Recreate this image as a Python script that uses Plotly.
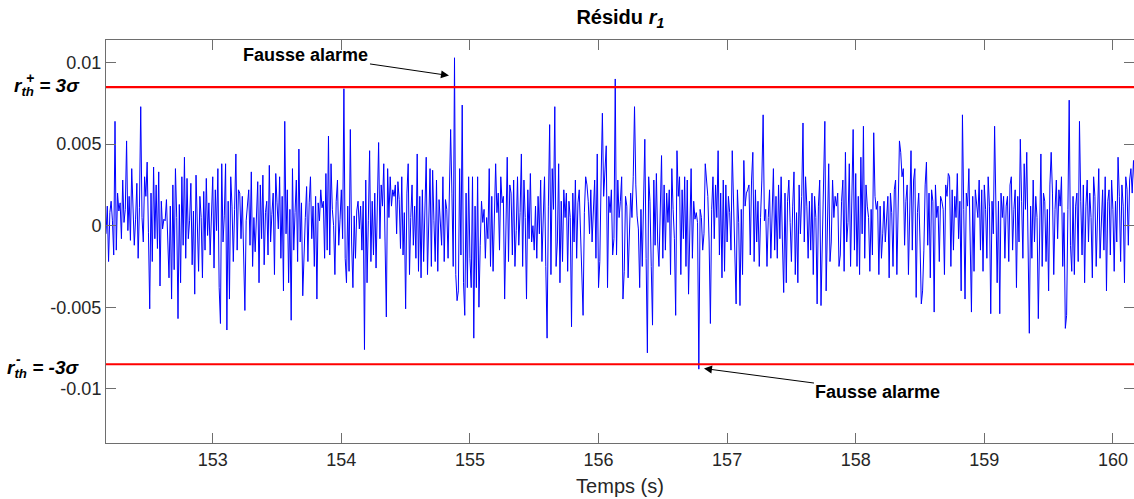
import plotly.graph_objects as go

# Sampling of the residual (s)
t_start = 152.17
t_step = 0.01

# Residual r1 values (one row = 0.2 s)
r1 = [
    -5e-4, 12e-4, -22e-4, 8e-4, 15e-4, 3e-4, -18e-4, 64e-4, -15e-4, 20e-4, 9e-4, 14e-4, -8e-4, 28e-4, 2e-4, 10e-4, 52e-4, -3e-4, 18e-4, -9e-4,
    35e-4, 6e-4, -12e-4, 4e-4, 26e-4, -20e-4, 11e-4, 73e-4, 5e-4, -10e-4, 30e-4, 18e-4, 39e-4, -4e-4, -51e-4, 20e-4, -22e-4, 36e-4, -8e-4, 25e-4,
    -14e-4, 33e-4, -37e-4, 15e-4, -2e-4, 4e-4, 3e-4, 16e-4, -15e-4, -32e-4, 12e-4, -45e-4, 25e-4, -27e-4, 35e-4, 5e-4, -57e-4, 13e-4, -35e-4, 30e-4,
    -12e-4, 42e-4, -20e-4, 29e-4, -8e-4, 3e-4, 26e-4, -24e-4, 9e-4, -42e-4, 31e-4, 1e-4, -28e-4, 18e-4, 5e-4, -32e-4, 21e-4, -15e-4, 29e-4, -6e-4,
    14e-4, -18e-4, 8e-4, 30e-4, -26e-4, 22e-4, -3e-4, 35e-4, -38e-4, -60e-4, 38e-4, -10e-4, 6e-4, 38e-4, -64e-4, 15e-4, -45e-4, 30e-4, 12e-4, -22e-4,
    10e-4, 44e-4, -15e-4, 22e-4, 20e-4, -8e-4, 18e-4, -30e-4, -52e-4, 3e-4, 16e-4, 22e-4, -12e-4, 33e-4, -25e-4, 5e-4, -16e-4, 13e-4, 27e-4, -35e-4,
    25e-4, -8e-4, 31e-4, -24e-4, 8e-4, 15e-4, -18e-4, 37e-4, -10e-4, 7e-4, 20e-4, -30e-4, 32e-4, 14e-4, -2e-4, 30e-4, -20e-4, 18e-4, -40e-4, 64e-4,
    -5e-4, 22e-4, -35e-4, 10e-4, -58e-4, 35e-4, -15e-4, 8e-4, 28e-4, -22e-4, 47e-4, -10e-4, 14e-4, -43e-4, -12e-4, 5e-4, 24e-4, -22e-4, 14e-4, 30e-4,
    -8e-4, 12e-4, -25e-4, 18e-4, -45e-4, 14e-4, 3e-4, 22e-4, 11e-4, 15e-4, -20e-4, 32e-4, -15e-4, 55e-4, -18e-4, 38e-4, 10e-4, 0.0, -30e-4, 15e-4,
    28e-4, -12e-4, 4e-4, 22e-4, -8e-4, 84e-4, -20e-4, -35e-4, 12e-4, -28e-4, 59e-4, -10e-4, -38e-4, 6e-4, -20e-4, 9e-4, 15e-4, -2e-4, 12e-4, -15e-4,
    15e-4, -76e-4, 28e-4, -35e-4, 3e-4, 46e-4, -22e-4, 15e-4, -18e-4, 20e-4, -26e-4, 12e-4, 51e-4, -8e-4, 25e-4, 12e-4, 38e-4, -10e-4, -56e-4, 35e-4,
    5e-4, 30e-4, 12e-4, 22e-4, 18e-4, 25e-4, -5e-4, 27e-4, 16e-4, -14e-4, 30e-4, -18e-4, 8e-4, -51e-4, 20e-4, 38e-4, -30e-4, 5e-4, 25e-4, -12e-4,
    12e-4, -20e-4, 44e-4, -28e-4, 18e-4, -32e-4, 22e-4, -22e-4, 10e-4, 42e-4, -30e-4, 15e-4, 35e-4, -25e-4, 34e-4, 3e-4, -22e-4, 28e-4, -28e-4, 16e-4,
    5e-4, -12e-4, 30e-4, -22e-4, 16e-4, 10e-4, -20e-4, 22e-4, 59e-4, 20e-4, -25e-4, 103e-4, -30e-4, -46e-4, -40e-4, 35e-4, -18e-4, 74e-4, -35e-4, -55e-4,
    20e-4, -38e-4, 30e-4, -20e-4, -38e-4, 30e-4, -69e-4, 12e-4, -38e-4, 30e-4, -50e-4, -12e-4, 15e-4, 2e-4, 10e-4, -20e-4, 5e-4, -8e-4, 35e-4, -25e-4,
    18e-4, -28e-4, 6e-4, 38e-4, 8e-4, 20e-4, -15e-4, 30e-4, 14e-4, 18e-4, -45e-4, 5e-4, 42e-4, -22e-4, 25e-4, 20e-4, -18e-4, 28e-4, -25e-4, -3e-4,
    30e-4, -12e-4, 8e-4, 44e-4, -25e-4, 28e-4, 5e-4, -45e-4, 22e-4, -8e-4, 32e-4, -10e-4, 0.0, -15e-4, 12e-4, -20e-4, 18e-4, -5e-4, 28e-4, -22e-4,
    12e-4, 30e-4, -25e-4, -69e-4, 12e-4, 62e-4, -30e-4, 35e-4, 10e-4, 73e-4, -25e-4, -10e-4, 38e-4, -35e-4, 15e-4, -22e-4, 22e-4, 5e-4, 20e-4, -28e-4,
    15e-4, 5e-4, -62e-4, 20e-4, -10e-4, 28e-4, -20e-4, 14e-4, 22e-4, -8e-4, -40e-4, -55e-4, 8e-4, 30e-4, 25e-4, 15e-4, -5e-4, 22e-4, -10e-4, 10e-4,
    28e-4, -20e-4, 44e-4, -38e-4, -22e-4, 28e-4, 69e-4, 18e-4, 30e-4, 49e-4, -38e-4, 18e-4, 8e-4, 22e-4, -18e-4, -8e-4, 90e-4, -18e-4, 28e-4, 5e-4,
    15e-4, 30e-4, -45e-4, -28e-4, 18e-4, 12e-4, -32e-4, -10e-4, 20e-4, 5e-4, 30e-4, 73e-4, 25e-4, 6e-4, -2e-4, -38e-4, 10e-4, -25e-4, 15e-4, 53e-4,
    -20e-4, -78e-4, 30e-4, 15e-4, -25e-4, -61e-4, 28e-4, -12e-4, 32e-4, -10e-4, -25e-4, 15e-4, 43e-4, -20e-4, 25e-4, -15e-4, 20e-4, 2e-4, 22e-4, -30e-4,
    35e-4, 10e-4, -8e-4, -55e-4, 46e-4, 18e-4, 30e-4, -30e-4, 22e-4, -8e-4, 30e-4, -25e-4, 28e-4, -42e-4, 12e-4, 35e-4, -20e-4, 15e-4, 4e-4, 8e-4,
    2e-4, -88e-4, 10e-4, 5e-4, -15e-4, -5e-4, 38e-4, 25e-4, 18e-4, -10e-4, -60e-4, 10e-4, 30e-4, -8e-4, 25e-4, 5e-4, 46e-4, -18e-4, 20e-4, -32e-4,
    28e-4, -28e-4, 25e-4, -10e-4, 18e-4, 8e-4, -15e-4, 46e-4, 12e-4, -25e-4, -48e-4, 22e-4, 2e-4, -49e-4, 10e-4, -30e-4, 40e-4, 12e-4, 20e-4, 22e-4,
    25e-4, -18e-4, 28e-4, 45e-4, -22e-4, 22e-4, -10e-4, 15e-4, -25e-4, 5e-4, 28e-4, 68e-4, 3e-4, 10e-4, -25e-4, 5e-4, 22e-4, -20e-4, 12e-4, 35e-4,
    -15e-4, 18e-4, -20e-4, 25e-4, -8e-4, 30e-4, -10e-4, -41e-4, 20e-4, -35e-4, 15e-4, 28e-4, 2e-4, -22e-4, 12e-4, 33e-4, -30e-4, 8e-4, -35e-4, 25e-4,
    -5e-4, 18e-4, 63e-4, -10e-4, 30e-4, 12e-4, -20e-4, 15e-4, -15e-4, 20e-4, -30e-4, 18e-4, 5e-4, -48e-4, 12e-4, 28e-4, -49e-4, -15e-4, 20e-4, 64e-4,
    -40e-4, 12e-4, 38e-4, -22e-4, -10e-4, 28e-4, 5e-4, 18e-4, 12e-4, 20e-4, -25e-4, -18e-4, 15e-4, 28e-4, -28e-4, 45e-4, -10e-4, 2e-4, 38e-4, -25e-4,
    20e-4, 59e-4, -15e-4, 32e-4, -25e-4, 18e-4, -30e-4, 42e-4, -5e-4, 61e-4, -20e-4, 25e-4, 12e-4, 5e-4, -28e-4, 10e-4, -18e-4, 57e-4, 18e-4, 10e-4,
    15e-4, -30e-4, 12e-4, -20e-4, -5e-4, 15e-4, -10e-4, 5e-4, 18e-4, -32e-4, 20e-4, 8e-4, -25e-4, 22e-4, 28e-4, -30e-4, 15e-4, 52e-4, 45e-4, 30e-4,
    35e-4, -12e-4, 15e-4, 25e-4, -30e-4, 8e-4, 46e-4, -15e-4, 28e-4, 35e-4, -44e-4, 8e-4, 20e-4, -10e-4, -48e-4, -40e-4, -15e-4, 25e-4, 39e-4, -12e-4,
    20e-4, -32e-4, 22e-4, 15e-4, -53e-4, 25e-4, 5e-4, 12e-4, -22e-4, 18e-4, 15e-4, 10e-4, -30e-4, 25e-4, 18e-4, 32e-4, 30e-4, -25e-4, 22e-4, -15e-4,
    18e-4, 5e-4, 32e-4, -8e-4, 15e-4, -40e-4, 68e-4, 10e-4, -45e-4, 20e-4, 12e-4, 35e-4, -25e-4, -53e-4, 18e-4, -28e-4, 22e-4, 15e-4, 5e-4, 28e-4,
    -15e-4, 22e-4, -28e-4, 25e-4, 10e-4, -20e-4, 30e-4, 12e-4, -54e-4, 15e-4, -5e-4, 61e-4, 8e-4, -35e-4, 15e-4, -54e-4, 20e-4, 5e-4, 18e-4, -20e-4,
    12e-4, 18e-4, -22e-4, 25e-4, 30e-4, -15e-4, 10e-4, 22e-4, -38e-4, 18e-4, -10e-4, 53e-4, 15e-4, -20e-4, 38e-4, 10e-4, 45e-4, -15e-4, -66e-4, 12e-4,
    -20e-4, 28e-4, -10e-4, 18e-4, 5e-4, -57e-4, 12e-4, 44e-4, -25e-4, 20e-4, 15e-4, -22e-4, 10e-4, -40e-4, 25e-4, 45e-4, 20e-4, -30e-4, 10e-4, 28e-4,
    -8e-4, 22e-4, 12e-4, 30e-4, -25e-4, 8e-4, -63e-4, -55e-4, 10e-4, 77e-4, -12e-4, -28e-4, 18e-4, -30e-4, 12e-4, 20e-4, -22e-4, 64e-4, 15e-4, -18e-4,
    25e-4, -35e-4, 12e-4, 28e-4, -10e-4, 20e-4, 5e-4, -32e-4, 30e-4, 18e-4, -25e-4, 12e-4, 35e-4, -20e-4, 8e-4, 22e-4, -15e-4, 30e-4, -40e-4, 15e-4,
    22e-4, -18e-4, 28e-4, 10e-4, -28e-4, 15e-4, -10e-4, 42e-4, 18e-4, -22e-4, 25e-4, 12e-4, -35e-4, 30e-4, 22e-4, -12e-4, 28e-4, 35e-4, 20e-4, 40e-4,
    25e-4,
]
t = [t_start + k * t_step for k in range(len(r1))]

# Thresholds (+/- 3 sigma)
r_th_plus = 0.0085
r_th_minus = -0.0085

# Axis ticks
x_ticks = [153, 154, 155, 156, 157, 158, 159, 160]
y_ticks = [-0.01, -0.005, 0, 0.005, 0.01]
y_ticklabels = ["-0.01", "-0.005", "0", "0.005", "0.01"]
x_range = [152.17, 160.164]
y_range = [-0.01333, 0.01139]

# False alarm annotations: (time, value) of arrow tip
alarm_tips = [(154.837, 0.00921), (156.82, -0.00876)]
alarm_offsets = [(-143, -21), (174, 23)]

FONT = "Liberation Sans, Arial, Helvetica, sans-serif"
AXIS_COLOR = "#6e6e6e"
TEXT_COLOR = "#262626"

fig = go.Figure()
fig.add_trace(go.Scatter(x=t, y=r1, mode="lines",
                         line=dict(color="#0000ff", width=1), showlegend=False,
                         hoverinfo="skip"))
for thr in (r_th_plus, r_th_minus):
    fig.add_trace(go.Scatter(x=x_range, y=[thr, thr], mode="lines",
                             line=dict(color="#ff0000", width=2.2), showlegend=False,
                             hoverinfo="skip"))

for (xt, yt), (ax, ay) in zip(alarm_tips, alarm_offsets):
    fig.add_annotation(x=xt, y=yt, xref="x", yref="y", ax=ax, ay=ay,
                       text="<b>Fausse alarme</b>", showarrow=True,
                       arrowhead=2, arrowsize=1.6, arrowwidth=1, arrowcolor="black",
                       font=dict(family=FONT, size=18, color="black"))

# Threshold labels on the left
lab_font = dict(family=FONT, size=19, color="black")
fig.add_annotation(xref="paper", yref="y", x=0, y=r_th_plus, xanchor="right", yanchor="middle",
                   xshift=-24, yshift=0, showarrow=False,
                   text="<b><i>r<sub>th</sub> = 3σ</i></b>", font=lab_font)
fig.add_annotation(xref="paper", yref="y", x=0, y=r_th_plus, xanchor="center", yanchor="middle",
                   xshift=-76, yshift=9, showarrow=False,
                   text="<b><i>+</i></b>", font=dict(family=FONT, size=14, color="black"))
fig.add_annotation(xref="paper", yref="y", x=0, y=r_th_minus, xanchor="right", yanchor="middle",
                   xshift=-24, yshift=-5, showarrow=False,
                   text="<b><i>r<sub>th</sub> = -3σ</i></b>", font=lab_font)
fig.add_annotation(xref="paper", yref="y", x=0, y=r_th_minus, xanchor="center", yanchor="middle",
                   xshift=-88, yshift=5, showarrow=False,
                   text="<b><i>-</i></b>", font=dict(family=FONT, size=14, color="black"))

fig.update_layout(
    width=1134, height=499,
    margin=dict(l=106, r=0, t=40, b=56),
    paper_bgcolor="white", plot_bgcolor="white",
    font=dict(family=FONT, color=TEXT_COLOR),
    title=dict(text="<b>Résidu <i>r<sub>1</sub></i></b>", x=0.547, xanchor="center",
               y=0.966, yanchor="middle", font=dict(family=FONT, size=20, color="black")),
    xaxis=dict(range=x_range, tickvals=x_ticks, ticks="inside", ticklen=10,
               tickcolor=AXIS_COLOR, showline=True, linecolor=AXIS_COLOR, linewidth=1,
               mirror="ticks", showgrid=False, zeroline=False,
               tickfont=dict(size=18, color=TEXT_COLOR),
               title=dict(text="Temps (s)", font=dict(size=20, color=TEXT_COLOR), standoff=10)),
    yaxis=dict(range=y_range, tickvals=y_ticks, ticktext=y_ticklabels, ticks="inside",
               ticklen=10, tickcolor=AXIS_COLOR, showline=True, linecolor=AXIS_COLOR,
               linewidth=1, mirror="ticks", showgrid=False, zeroline=False,
               tickfont=dict(size=18, color=TEXT_COLOR)),
)

fig.write_html("out.html")
